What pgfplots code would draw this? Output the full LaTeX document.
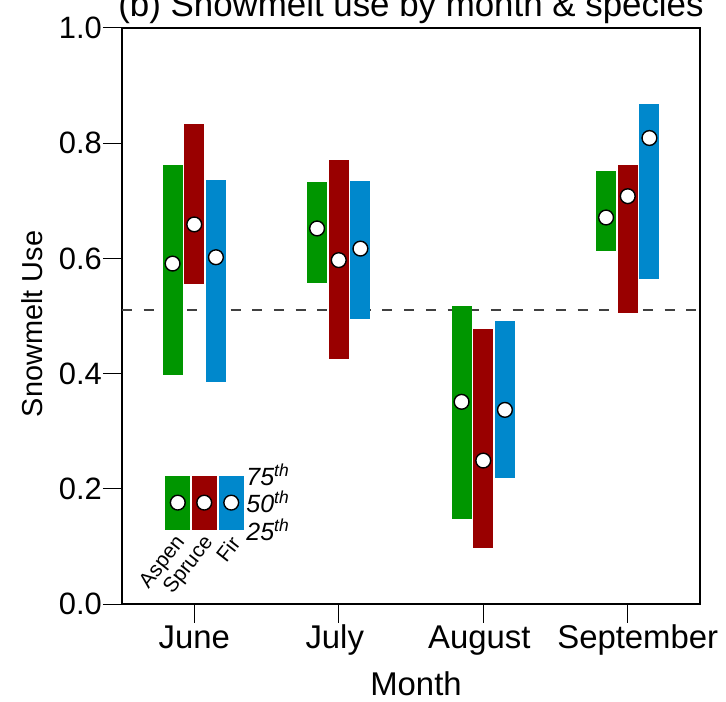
\documentclass[border=0pt]{standalone}
\usepackage{fontspec}
\setmainfont{Liberation Sans}
\usepackage{pgfplots}
\usepackage{pgfplotstable}
\pgfplotsset{compat=1.18}
\definecolor{cgreen}{RGB}{0,150,0}
\definecolor{cred}{RGB}{153,0,0}
\definecolor{cblue}{RGB}{0,136,204}

\pgfplotstableread{
x lo med hi
0.85 0.397 0.591 0.763
1.85 0.557 0.652 0.732
2.85 0.148 0.351 0.517
3.85 0.612 0.671 0.751
}\aspen
\pgfplotstableread{
x lo med hi
1.00 0.555 0.659 0.833
2.00 0.426 0.597 0.770
3.00 0.097 0.249 0.478
4.00 0.506 0.708 0.763
}\spruce
\pgfplotstableread{
x lo med hi
1.15 0.386 0.602 0.736
2.15 0.494 0.617 0.734
3.15 0.219 0.337 0.492
4.15 0.565 0.809 0.868
}\fir

\begin{document}
\begin{tikzpicture}
\begin{axis}[
  at={(0,0)}, anchor=south west,
  scale only axis, width=578bp, height=576bp,
  xmin=0.5, xmax=4.5, ymin=0, ymax=1,
  xtick={1,2,3,4}, xticklabels={June,\hspace*{-8bp}July,\hspace*{-8bp}August,\hspace*{20bp}September},
  ytick={0,0.2,0.4,0.6,0.8,1},
  /pgf/number format/assume math mode=true,
  yticklabel style={/pgf/number format/fixed, /pgf/number format/fixed zerofill,
     /pgf/number format/precision=1, font=\fontsize{31}{31}\selectfont, inner sep=1bp},
  xticklabel style={font=\fontsize{33}{33}\selectfont, text height=24bp, text depth=7bp, inner sep=1bp},
  tick align=outside, tick pos=left, major tick length=19bp,
  tick style={draw=black, line width=1bp},
  axis line style={line width=1.1bp, draw=black},
  clip=false,
]
% reference line
\addplot[dash pattern=on 10bp off 11.7bp, line width=1.5bp, draw=black!75] coordinates {(0.5,0.51) (4.5,0.51)};

% bars (25th to 75th)
\addplot[only marks, mark=none, error bars/.cd, y dir=both, y explicit, error mark=none,
  error bar style={draw=cgreen, line width=20bp}]
  table[x=x, y=med, y error plus expr=\thisrow{hi}-\thisrow{med}, y error minus expr=\thisrow{med}-\thisrow{lo}] {\aspen};
\addplot[only marks, mark=none, error bars/.cd, y dir=both, y explicit, error mark=none,
  error bar style={draw=cred, line width=20bp}]
  table[x=x, y=med, y error plus expr=\thisrow{hi}-\thisrow{med}, y error minus expr=\thisrow{med}-\thisrow{lo}] {\spruce};
\addplot[only marks, mark=none, error bars/.cd, y dir=both, y explicit, error mark=none,
  error bar style={draw=cblue, line width=20bp}]
  table[x=x, y=med, y error plus expr=\thisrow{hi}-\thisrow{med}, y error minus expr=\thisrow{med}-\thisrow{lo}] {\fir};

% medians
\addplot[only marks, mark=*, mark size=7.4bp, mark options={fill=white, draw=black, line width=1.4bp}]
  table[x=x, y=med] {\aspen};
\addplot[only marks, mark=*, mark size=7.4bp, mark options={fill=white, draw=black, line width=1.4bp}]
  table[x=x, y=med] {\spruce};
\addplot[only marks, mark=*, mark size=7.4bp, mark options={fill=white, draw=black, line width=1.4bp}]
  table[x=x, y=med] {\fir};

% inset key
\addplot[only marks, mark=none, error bars/.cd, y dir=both, y explicit, error mark=none,
  error bar style={draw=cgreen, line width=25bp}] coordinates {(0.886,0.176) +- (0,0.047)};
\addplot[only marks, mark=none, error bars/.cd, y dir=both, y explicit, error mark=none,
  error bar style={draw=cred, line width=25bp}] coordinates {(1.069,0.176) +- (0,0.047)};
\addplot[only marks, mark=none, error bars/.cd, y dir=both, y explicit, error mark=none,
  error bar style={draw=cblue, line width=25bp}] coordinates {(1.256,0.176) +- (0,0.047)};
\addplot[only marks, mark=*, mark size=7.4bp, mark options={fill=white, draw=black, line width=1.4bp}]
  coordinates {(0.886,0.176) (1.069,0.176) (1.256,0.176)};

\node[anchor=west, inner sep=0pt, font=\fontsize{25}{25}\selectfont\itshape] at (axis cs:1.36,0.225) {75\textsuperscript{th}};
\node[anchor=west, inner sep=0pt, font=\fontsize{25}{25}\selectfont\itshape] at (axis cs:1.36,0.177) {50\textsuperscript{th}};
\node[anchor=west, inner sep=0pt, font=\fontsize{25}{25}\selectfont\itshape] at (axis cs:1.36,0.129) {25\textsuperscript{th}};

\node[anchor=east, rotate=52, inner sep=1bp, font=\fontsize{21}{21}\selectfont] at (axis cs:0.915,0.114) {Aspen};
\node[anchor=east, rotate=52, inner sep=1bp, font=\fontsize{21}{21}\selectfont] at (axis cs:1.11,0.114) {Spruce};
\node[anchor=east, rotate=52, inner sep=1bp, font=\fontsize{21}{21}\selectfont] at (axis cs:1.29,0.114) {Fir};
\end{axis}
% title, axis labels
\node[anchor=base, font=\fontsize{35}{35}\selectfont] at (289bp,587bp) {(b) Snowmelt use by month \& species};
\node[anchor=base, font=\fontsize{33}{33}\selectfont] at (294bp,-91bp) {Month};
\node[anchor=base, rotate=90, font=\fontsize{29}{29}\selectfont] at (-79bp,280bp) {Snowmelt Use};
\pgfresetboundingbox
\path[use as bounding box] (-122bp,-98bp) rectangle (604bp,604bp);
\end{tikzpicture}
\end{document}
